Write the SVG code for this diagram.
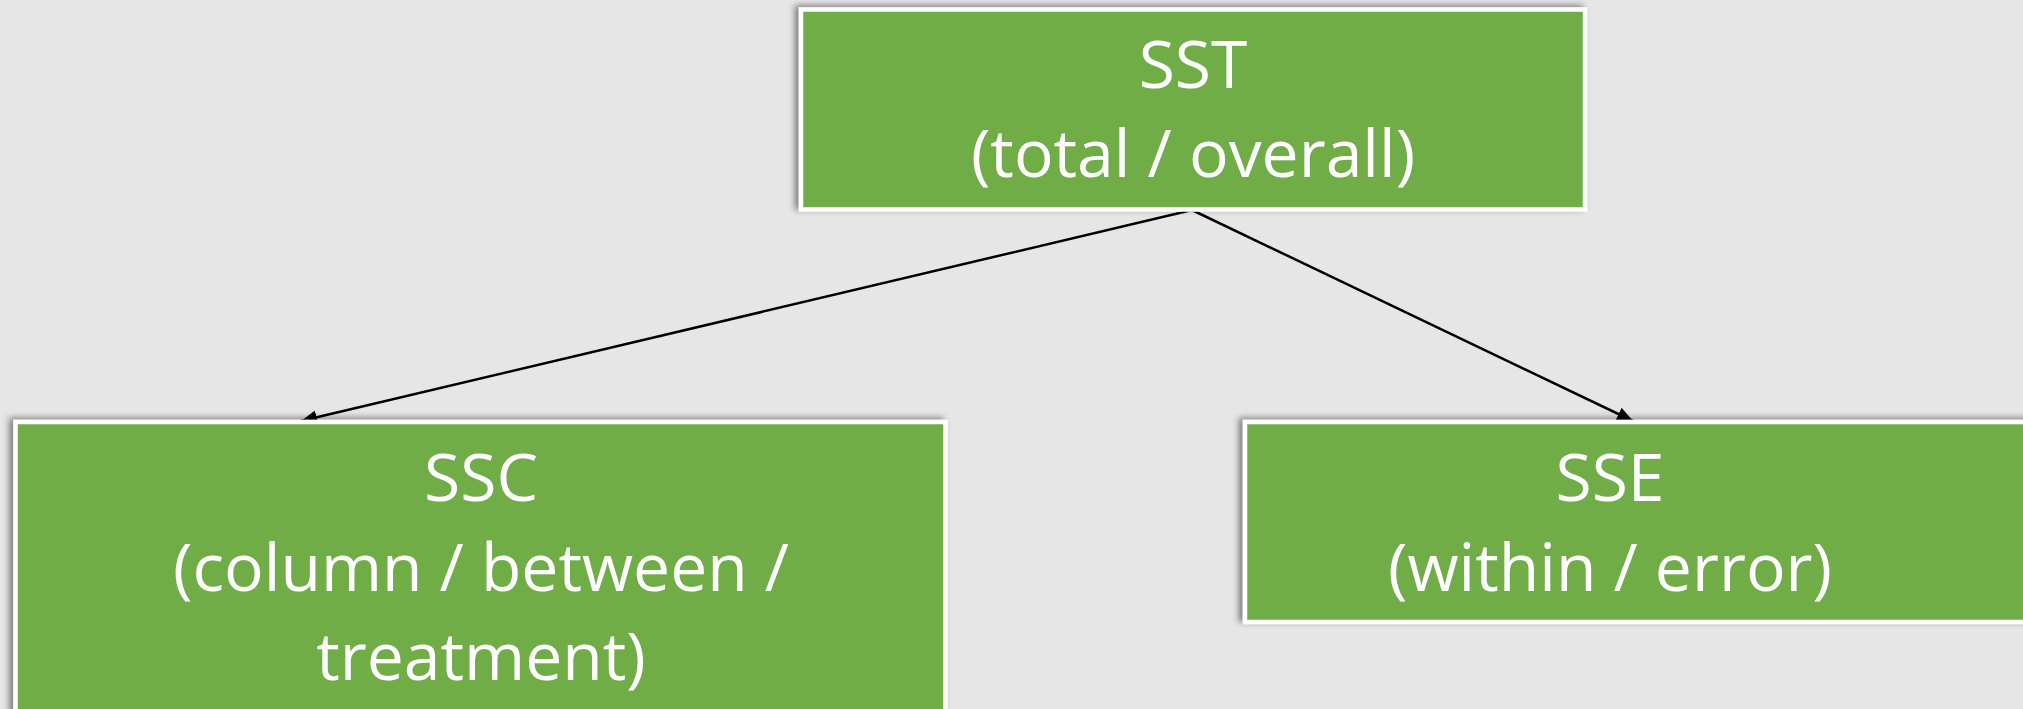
<svg xmlns="http://www.w3.org/2000/svg" width="2023" height="709" viewBox="0 0 2023 709">
  <defs>
    <filter id="sh" x="-5%" y="-10%" width="110%" height="120%">
      <feDropShadow dx="-4" dy="-2" stdDeviation="3" flood-color="#000" flood-opacity="0.45"/>
    </filter>
    <marker id="ah" markerWidth="16" markerHeight="14" refX="16" refY="7" orient="auto" markerUnits="userSpaceOnUse">
      <path d="M0,0 L16,7 L0,14 Z" fill="#000"/>
    </marker>
  </defs>
  <style>
    .box { fill: #70ad47; stroke: #ffffff; stroke-width: 4.5; filter: url(#sh); }
    .t { fill: #ffffff; font-family: "Open Sans", "Liberation Sans", sans-serif; font-size: 66px; text-anchor: middle; }
    .c { stroke: #000; stroke-width: 2.5; fill: none; marker-end: url(#ah); }
  </style>
  <rect width="2023" height="709" fill="#e6e6e6"/>
  <g id="connectors">
    <line class="c" x1="1192" y1="210" x2="301" y2="421"/>
    <line class="c" x1="1192" y1="210" x2="1633" y2="421"/>
  </g>
  <g id="sst">
    <rect class="box" x="801" y="9.5" width="784" height="200"/>
    <text class="t" x="1193" y="88">SST</text>
    <text class="t" x="1193" y="177">(total / overall)</text>
  </g>
  <g id="ssc">
    <rect class="box" x="15.5" y="422" width="930" height="320"/>
    <text class="t" x="481" y="501">SSC</text>
    <text class="t" x="481" y="591">(column / between /</text>
    <text class="t" x="481" y="680">treatment)</text>
  </g>
  <g id="sse">
    <rect class="box" x="1245" y="422" width="820" height="200"/>
    <text class="t" x="1610" y="501">SSE</text>
    <text class="t" x="1610" y="591">(within / error)</text>
  </g>
</svg>
